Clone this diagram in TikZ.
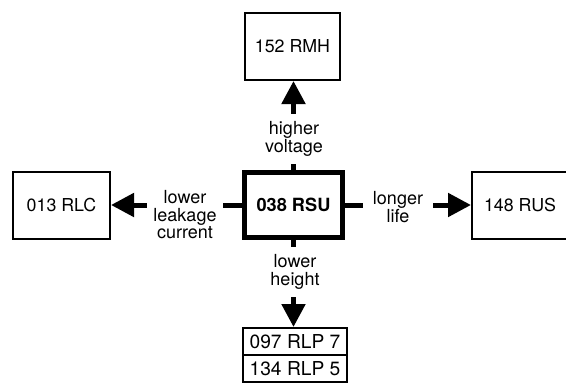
\documentclass[tikz,border=0pt]{standalone}
\usepackage{fontspec}
\setmainfont{TeX Gyre Heros}
\usetikzlibrary{arrows.meta}
\begin{document}
\begin{tikzpicture}[x=1pt,y=-1pt,
  box/.style={draw, line width=2pt, minimum width=#1, minimum height=67pt, inner sep=0pt,
    font=\fontsize{17.8}{20}\selectfont},
  mainbox/.style={draw, line width=5pt, minimum width=98pt, minimum height=65pt, inner sep=0pt,
    font=\bfseries\fontsize{18.2}{20}\selectfont},
  stackbox/.style={draw, line width=2pt, minimum width=104pt, minimum height=27pt, inner sep=0pt,
    font=\fontsize{19.2}{20}\selectfont},
  lab/.style={fill=white, inner sep=0pt, align=center, font=\fontsize{18}{17.5}\selectfont},
  conn/.style={line width=5pt},
  arr/.style={conn, -{Triangle[length=23pt,width=23pt]}}]
\useasboundingbox (0,0) rectangle (566,383);
\node[mainbox] (c) at (293.5,205) {038 RSU};
\node[box=95pt] (t) at (292.5,46.5) {152 RMH};
\node[box=97pt] (l) at (61.5,205.5) {013 RLC};
\node[box=96pt] (r) at (520,205.5) {148 RUS};
\node[stackbox] (b1) at (295,341.5) {097 RLP 7};
\node[stackbox] (b2) at (295,368.5) {134 RLP 5};
\draw[arr] (c.north) -- (c.north |- t.south);
\draw[arr] (c.west) -- (c.west -| l.east);
\draw[arr] (c.east) -- (c.east -| r.west);
\draw[arr] (c.south) -- (c.south |- b1.north);
\node[lab, minimum width=60pt, minimum height=50pt] (lu) at (294,139) {higher\\voltage};
\node[lab, minimum width=76pt, minimum height=50pt] (ll) at (185,215) {lower\\leakage\\current};
\node[lab, minimum width=70pt, minimum height=40pt] (lr) at (398,207) {longer\\life};
\node[lab, minimum width=60pt, minimum height=50pt] (ld) at (295,272) {lower\\height};
\end{tikzpicture}
\end{document}
